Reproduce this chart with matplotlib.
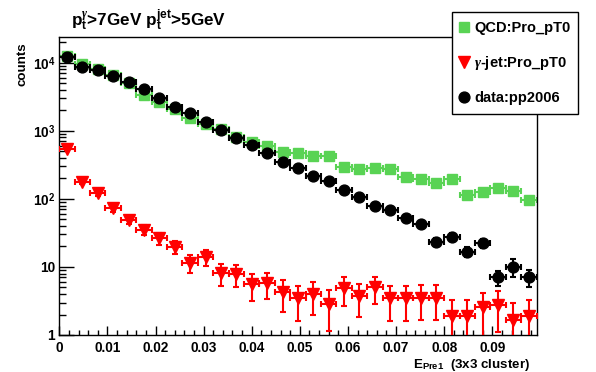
import matplotlib
matplotlib.use("Agg")
import matplotlib.pyplot as plt
from matplotlib.lines import Line2D
from matplotlib.ticker import FixedLocator, FixedFormatter, MultipleLocator, LogLocator, NullFormatter
import numpy as np

plt.rcParams['font.family'] = 'Liberation Sans'
plt.rcParams['font.weight'] = 'bold'
plt.rcParams['mathtext.fontset'] = 'custom'
plt.rcParams['mathtext.rm'] = 'Liberation Sans:bold'
plt.rcParams['mathtext.bf'] = 'Liberation Sans:bold'
plt.rcParams['mathtext.it'] = 'Liberation Serif:italic'

# histogram binning (E_Pre1, 3x3 cluster)
x_lo, x_hi, n_bins = 0.0, 0.0992, 31

qcd = [12800, 9570, 8080, 6660, 5030, 3380, 2700, 2110, 1570, 1250, 1060, 824, 684, 602,
       496, 480, 429, 429, 299, 279, 283, 276, 213, 199, 170, 197, 114, 127, 145, 131, 97]
gjet = [538, 180, 121, 73, 49.1, 35, 26.4, 19.9, 11.6, 13.9, 8.1, 7.9, 5.6, 5.75, 4.3,
        3.47, 3.97, 2.83, 4.86, 3.75, 5.03, 3.47, 3.47, 3.54, 3.54, 1.9, 1.9, 2.55, 2.76, 1.66, 1.9]
gjet_err = [23, 13.4, 11, 8.5, 7, 5.9, 5.1, 4.5, 3.4, 3.7, 2.8, 2.8, 2.4, 2.4, 2.1,
            1.86, 2.0, 1.7, 2.2, 1.9, 2.2, 1.86, 1.86, 1.88, 1.88, 1.38, 1.38, 1.6, 1.66, 1.29, 1.38]
data = [12130, 8830, 7890, 6440, 5200, 4150, 3030, 2280, 1820, 1340, 1035, 789, 623, 470,
        347, 289, 220, 184, 136, 106, 79.7, 69.6, 53.1, 42.9, 23.6, 27.9, 16.8, 22.3, 7.06, 10.1, 7.06]
data_err = [75, 64, 61, 55, 49, 44, 38, 33, 29, 25, 22, 19, 17, 15, 13, 12, 10, 9.3, 8.0,
            7.1, 6.1, 5.7, 5.0, 4.5, 3.3, 3.6, 2.8, 3.2, 1.8, 3.0, 2.0]

x_ticks = [0, 0.01, 0.02, 0.03, 0.04, 0.05, 0.06, 0.07, 0.08, 0.09]
x_ticklabels = ["0", "0.01", "0.02", "0.03", "0.04", "0.05", "0.06", "0.07", "0.08", "0.09"]
y_ticks = [1, 10, 100, 1000, 10000]
y_ticklabels = ["1", "10", r"$10^{2}$", r"$10^{3}$", r"$10^{4}$"]

green = "#59d354"
red = "#ff0000"

edges = np.linspace(x_lo, x_hi, n_bins + 1)
centers = 0.5 * (edges[1:] + edges[:-1])
half_w = 0.5 * (edges[1:] - edges[:-1])

fig = plt.figure(figsize=(5.96, 3.72), dpi=100)
ax = fig.add_axes([0.0995, 0.0995, 0.8007, 0.8011])

ax.errorbar(centers, qcd, xerr=half_w, fmt='s', color=green, markersize=6.8,
            elinewidth=1.5, capsize=2.0, capthick=1.5, zorder=2)
ax.errorbar(centers, gjet, xerr=half_w, yerr=gjet_err, fmt='v', color=red, markersize=8.3,
            elinewidth=1.5, capsize=2.0, capthick=1.5, zorder=3)
ax.errorbar(centers, data, xerr=half_w, yerr=data_err, fmt='o', color='black', markersize=7.8,
            elinewidth=1.5, capsize=2.2, capthick=1.5, zorder=4)

ax.set_yscale('log')
ax.set_xlim(x_lo, x_hi)
ax.set_ylim(1, 24000)

ax.xaxis.set_major_locator(FixedLocator(x_ticks))
ax.xaxis.set_major_formatter(FixedFormatter(x_ticklabels))
ax.xaxis.set_minor_locator(MultipleLocator(0.002))
ax.yaxis.set_major_locator(FixedLocator(y_ticks))
ax.yaxis.set_major_formatter(FixedFormatter(y_ticklabels))
ax.yaxis.set_minor_locator(LogLocator(base=10, subs=np.arange(2, 10)))
ax.yaxis.set_minor_formatter(NullFormatter())

ax.tick_params(which='both', direction='in', top=False, right=False, labelsize=9.8, width=1)
ax.tick_params(axis='x', which='major', length=6.5, pad=4.5)
ax.tick_params(axis='x', which='minor', length=3.5)
ax.tick_params(axis='y', which='major', length=10.5, pad=3)
ax.tick_params(axis='y', which='minor', length=5.3)
for sp in ax.spines.values():
    sp.set_linewidth(1.0)

ax.set_xlabel(r"$\mathrm{E}_{\mathrm{Pre1}}$  (3x3 cluster)", fontsize=9.6, fontweight='bold')
ax.xaxis.set_label_coords(0.986, -0.111)
ax.xaxis.label.set_ha('right')
ax.xaxis.label.set_va('baseline')

ax.set_ylabel("counts", fontsize=9.6, fontweight='bold')
ax.yaxis.set_label_coords(-0.078, 0.983)
ax.yaxis.label.set_ha('right')
ax.yaxis.label.set_va('center')

fig.text(71 / 596, 1 - 26 / 372,
         r"$\mathrm{p}_{\mathrm{t}}^{\gamma}$>7GeV $\mathrm{p}_{\mathrm{t}}^{\mathrm{jet}}$>5GeV",
         fontsize=12.3, fontweight='bold', ha='left', va='baseline')

handles = [
    Line2D([], [], ls='none', marker='s', color=green, markersize=6.8),
    Line2D([], [], ls='none', marker='v', color=red, markersize=8.3),
    Line2D([], [], ls='none', marker='o', color='black', markersize=7.8),
]
labels = ["QCD:Pro_pT0", r"$\gamma$-jet:Pro_pT0", "data:pp2006"]
leg = fig.legend(handles, labels, loc='upper left',
                 bbox_to_anchor=(452 / 596, 1 - 11.7 / 372, 126 / 596, 0.0),
                 mode='expand', borderaxespad=0, borderpad=0.62, handlelength=0.45,
                 handletextpad=0.45, labelspacing=1.3, fancybox=False, framealpha=1,
                 edgecolor='black', prop={'weight': 'bold', 'size': 10.5})
leg.get_frame().set_linewidth(1.0)

fig.savefig("out.png", dpi=100)
